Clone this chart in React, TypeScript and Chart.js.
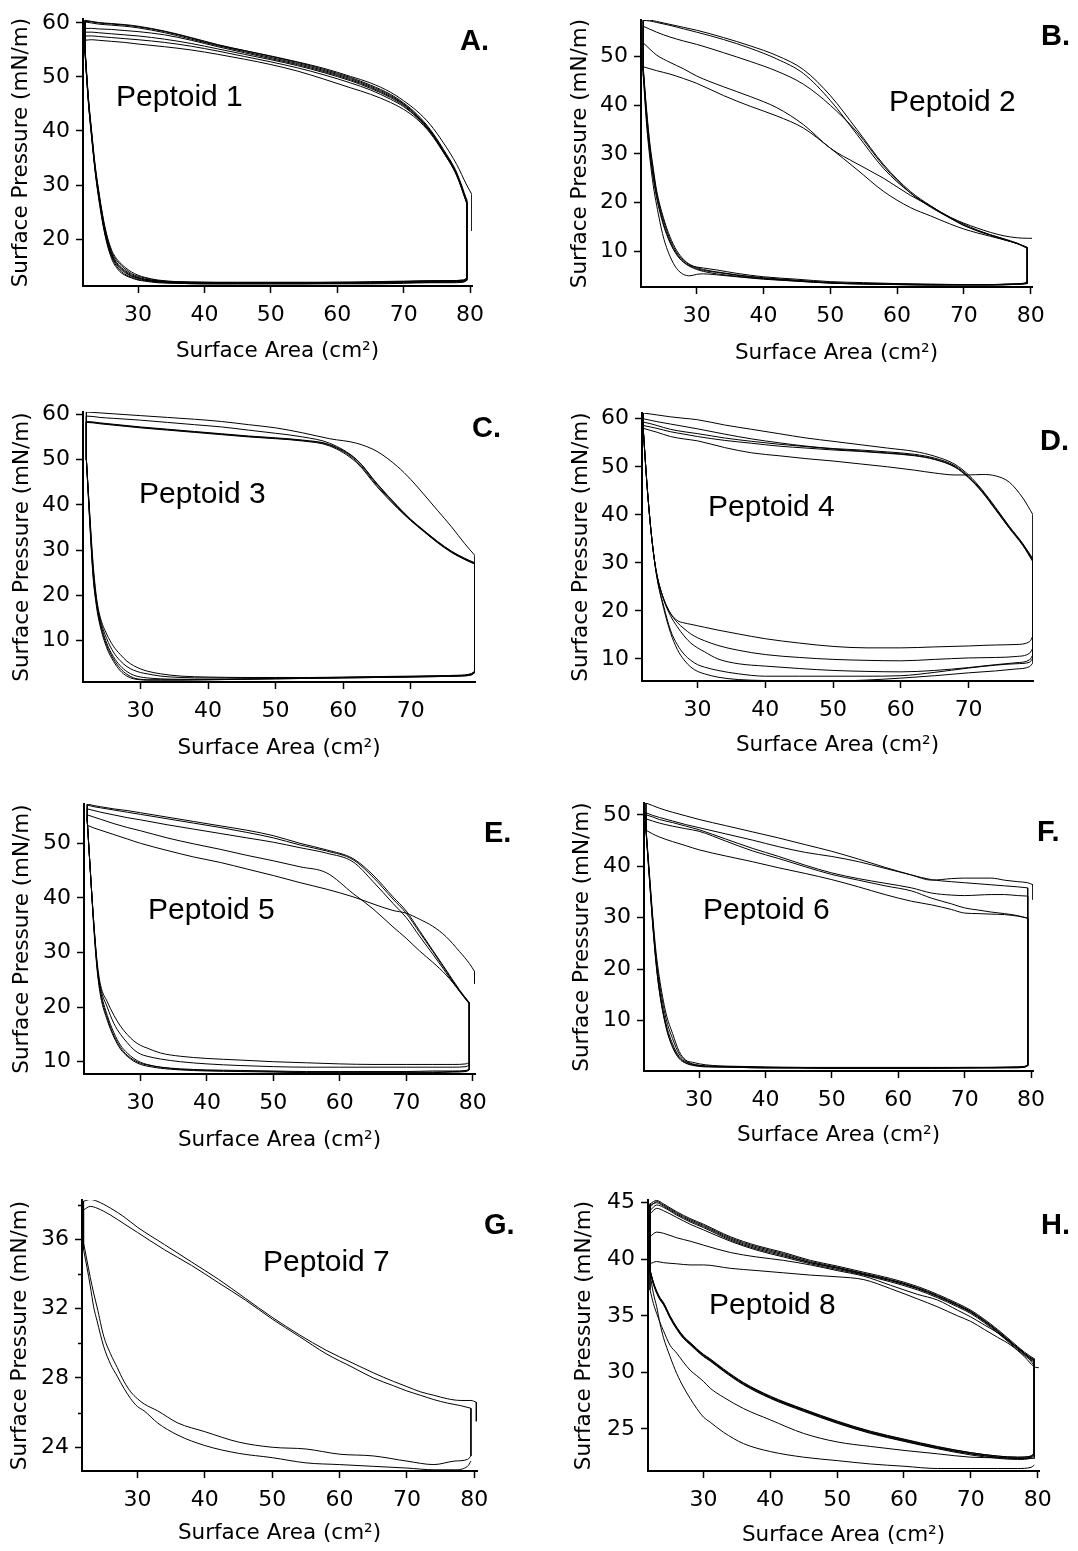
import React, { useEffect, useRef } from 'react';
import { Chart, registerables } from 'chart.js';

Chart.register(...registerables);

// ---------- shared abscissae (surface area, cm^2) ----------
const COMPRESSION_AREA = [22, 23, 24, 26, 28, 30, 34, 38, 42, 46, 50, 54, 58, 62, 65, 68, 70, 72, 74, 76, 78, 79.5];
const EXPANSION_AREA = [79.5, 79, 77, 74, 70, 65, 60, 55, 50, 45, 40, 36, 33, 31, 30, 29, 28, 27, 26, 25, 24, 23.5, 23, 22.5, 22];
const START_AREA = 80.3;
const X_TICKS_80 = [30, 40, 50, 60, 70, 80];
const X_TICKS_70 = [30, 40, 50, 60, 70];

// ---------- Peptoid 1 ----------
const P1_COMPRESSION = [
  [60.3, 60.2, 60.0, 59.8, 59.6, 59.3, 58.4, 57.2, 55.9, 54.9, 53.9, 52.8, 51.6, 50.1, 48.9, 47.2, 45.6, 43.7, 41.2, 37.8, 33.8, 30.0],
  [60.5, 60.3, 60.1, 59.9, 59.7, 59.4, 58.5, 57.3, 56.0, 54.9, 53.8, 52.7, 51.4, 49.9, 48.5, 46.8, 45.2, 43.1, 40.3, 36.6, 32.3, 27.3],
  [60.2, 60.0, 59.8, 59.6, 59.4, 59.1, 58.2, 57.0, 55.8, 54.7, 53.6, 52.5, 51.2, 49.7, 48.3, 46.6, 45.0, 42.9, 40.1, 36.4, 32.1, 27.0],
  [59.0, 59.0, 58.9, 58.8, 58.6, 58.4, 57.8, 56.8, 55.6, 54.5, 53.4, 52.3, 51.0, 49.5, 48.1, 46.4, 44.9, 42.8, 40.0, 36.3, 32.0, 26.9],
  [58.3, 58.3, 58.2, 58.0, 57.8, 57.6, 57.0, 56.2, 55.2, 54.2, 53.2, 52.1, 50.8, 49.3, 47.9, 46.2, 44.7, 42.6, 39.9, 36.2, 31.9, 26.8],
  [57.6, 57.6, 57.5, 57.3, 57.1, 56.9, 56.4, 55.7, 54.8, 53.8, 52.8, 51.7, 50.4, 48.9, 47.6, 45.9, 44.5, 42.5, 39.8, 36.1, 31.8, 26.7],
  [56.8, 56.9, 56.8, 56.6, 56.4, 56.1, 55.6, 55.0, 54.2, 53.3, 52.3, 51.1, 49.6, 48.0, 46.8, 45.3, 44.0, 42.2, 39.6, 36.0, 31.7, 26.6],
];
const P1_EXPANSION = [
  [12.8, 12.4, 12.3, 12.3, 12.2, 12.1, 12.0, 12.0, 12.0, 12.0, 12.0, 12.1, 12.4, 12.9, 13.3, 13.9, 14.8, 16.0, 18.0, 22.3, 29.5, 34.0, 40.0, 46.5, 55.5],
  [12.6, 12.3, 12.2, 12.2, 12.1, 12.0, 11.9, 11.9, 11.9, 11.9, 11.9, 12.0, 12.2, 12.6, 12.9, 13.4, 14.2, 15.3, 17.4, 21.7, 29.0, 33.5, 39.5, 46.0, 55.0],
  [12.5, 12.2, 12.1, 12.1, 12.0, 11.9, 11.8, 11.8, 11.8, 11.8, 11.8, 11.9, 12.1, 12.4, 12.7, 13.1, 13.8, 14.9, 17.0, 21.3, 28.6, 33.2, 39.2, 45.8, 54.8],
  [12.4, 12.1, 12.0, 12.0, 11.9, 11.8, 11.8, 11.7, 11.7, 11.7, 11.7, 11.8, 12.0, 12.3, 12.5, 12.9, 13.5, 14.6, 16.7, 21.0, 28.3, 33.0, 39.0, 45.6, 54.6],
  [12.7, 12.4, 12.3, 12.2, 12.1, 12.0, 12.0, 11.9, 11.9, 11.9, 12.0, 12.1, 12.3, 12.8, 13.1, 13.6, 14.5, 15.7, 17.7, 22.0, 29.2, 33.7, 39.7, 46.2, 55.2],
  [12.3, 12.0, 11.9, 11.9, 11.8, 11.7, 11.7, 11.7, 11.7, 11.7, 11.7, 11.8, 11.9, 12.2, 12.4, 12.8, 13.3, 14.3, 16.4, 20.8, 28.0, 32.8, 38.8, 45.4, 54.4],
  [12.5, 12.2, 12.1, 12.0, 12.0, 11.9, 11.8, 11.8, 11.8, 11.8, 11.8, 12.0, 12.2, 12.5, 12.8, 13.2, 14.0, 15.1, 17.2, 21.5, 28.8, 33.3, 39.3, 45.9, 54.9],
];
const P1_START = [28.2, 21.5];
const P1_Y_TICKS = [20, 30, 40, 50, 60];

// ---------- Peptoid 2 ----------
const P2_COMPRESSION = [
  [57.4, 57.3, 57.0, 56.4, 55.7, 55.0, 53.5, 51.7, 49.5, 46.5, 41.0, 34.0, 27.0, 22.0, 19.3, 17.0, 15.8, 14.8, 13.9, 13.2, 12.8, 12.7],
  [57.6, 57.5, 57.2, 56.6, 56.0, 55.4, 53.9, 52.2, 50.2, 47.3, 42.0, 35.0, 27.8, 22.3, 19.4, 16.9, 15.6, 14.4, 13.4, 12.5, 11.6, 10.8],
  [56.2, 55.6, 55.0, 54.0, 53.2, 52.5, 50.8, 49.0, 47.0, 44.3, 40.0, 34.5, 27.5, 22.0, 19.1, 16.8, 15.4, 14.2, 13.3, 12.4, 11.6, 10.6],
  [52.8, 51.5, 50.3, 48.8, 47.5, 46.0, 43.8, 41.8, 39.5, 36.0, 31.2, 28.0, 25.0, 21.5, 19.3, 16.8, 15.3, 14.3, 13.4, 12.6, 11.7, 10.8],
  [47.9, 47.5, 47.1, 46.4, 45.5, 44.5, 42.0, 39.8, 37.8, 35.3, 31.2, 26.8, 22.3, 19.0, 17.3, 15.6, 14.6, 13.8, 13.1, 12.4, 11.6, 10.8],
];
const P2_EXPANSION = [
  [3.5, 3.4, 3.2, 3.1, 3.1, 3.1, 3.2, 3.3, 3.5, 3.9, 4.4, 4.9, 5.4, 5.9, 6.3, 6.9, 7.8, 9.3, 11.8, 15.5, 21.0, 25.0, 30.0, 37.0, 47.0],
  [3.5, 3.4, 3.3, 3.2, 3.2, 3.3, 3.4, 3.6, 3.8, 4.3, 4.8, 5.5, 6.2, 6.6, 6.8, 7.2, 8.2, 9.8, 12.5, 16.5, 22.0, 26.5, 31.5, 38.5, 47.5],
  [3.4, 3.3, 3.2, 3.1, 3.1, 3.1, 3.2, 3.3, 3.5, 3.9, 4.3, 4.8, 5.2, 5.4, 5.3, 5.0, 5.3, 6.5, 9.0, 13.0, 19.5, 23.5, 29.0, 36.0, 46.0],
  [3.6, 3.4, 3.3, 3.2, 3.2, 3.2, 3.3, 3.4, 3.6, 4.0, 4.5, 5.1, 5.7, 6.1, 6.5, 7.0, 7.9, 9.5, 12.0, 15.8, 21.5, 25.5, 30.5, 37.5, 47.0],
  [3.8, 3.5, 3.3, 3.2, 3.2, 3.2, 3.3, 3.4, 3.6, 4.1, 4.6, 5.2, 5.8, 6.3, 6.7, 7.3, 8.4, 10.2, 13.0, 17.0, 22.5, 27.0, 32.0, 39.0, 47.5],
];
const P2_START = [12.7, 12.2];
const P2_Y_TICKS = [10, 20, 30, 40, 50];

// ---------- Peptoid 3 ----------
const P3_COMPRESSION = [
  [60.5, 60.4, 60.3, 60.1, 59.9, 59.7, 59.3, 58.9, 58.4, 57.7, 57.0, 55.9, 54.6, 53.6, 51.8, 48.5, 45.6, 42.2, 38.7, 35.2, 31.4, 28.8],
  [59.6, 59.5, 59.3, 59.1, 58.9, 58.7, 58.2, 57.7, 57.2, 56.5, 55.8, 55.0, 53.6, 50.0, 44.7, 39.8, 36.8, 34.3, 31.9, 29.8, 28.2, 27.2],
  [58.4, 58.3, 58.1, 57.8, 57.5, 57.2, 56.7, 56.2, 55.7, 55.2, 54.8, 54.3, 53.3, 49.9, 44.6, 39.7, 36.7, 34.2, 31.8, 29.7, 28.1, 27.1],
  [58.3, 58.2, 58.0, 57.7, 57.4, 57.1, 56.6, 56.1, 55.6, 55.1, 54.7, 54.2, 53.2, 49.6, 44.3, 39.5, 36.6, 34.1, 31.7, 29.6, 28.0, 27.0],
  [58.2, 58.1, 57.9, 57.6, 57.3, 57.0, 56.5, 56.0, 55.5, 55.0, 54.6, 54.1, 53.0, 49.3, 44.0, 39.3, 36.5, 34.0, 31.6, 29.5, 27.9, 26.9],
];
const P3_EXPANSION = [
  [3.0, 2.5, 2.2, 2.1, 2.0, 1.9, 1.8, 1.7, 1.6, 1.5, 1.4, 1.3, 1.3, 1.3, 1.4, 1.6, 2.2, 3.4, 5.5, 8.5, 13.5, 17.5, 24.0, 36.0, 50.0],
  [3.2, 2.6, 2.3, 2.2, 2.1, 2.0, 1.9, 1.8, 1.7, 1.6, 1.5, 1.5, 1.6, 1.8, 2.0, 2.4, 3.2, 4.5, 6.5, 9.5, 14.5, 18.5, 25.0, 37.0, 50.0],
  [3.4, 2.8, 2.4, 2.3, 2.2, 2.1, 2.0, 1.9, 1.9, 1.9, 2.0, 2.2, 2.7, 3.3, 3.8, 4.5, 5.5, 7.0, 8.8, 11.5, 15.5, 19.5, 27.0, 38.0, 50.0],
  [3.3, 2.7, 2.3, 2.2, 2.1, 2.0, 1.9, 1.8, 1.8, 1.8, 1.8, 1.9, 2.2, 2.7, 3.0, 3.5, 4.3, 5.6, 7.5, 10.5, 15.0, 19.0, 26.0, 37.5, 50.0],
  [3.1, 2.5, 2.2, 2.1, 2.0, 1.9, 1.8, 1.7, 1.6, 1.5, 1.4, 1.4, 1.4, 1.4, 1.5, 1.8, 2.6, 3.9, 6.0, 9.0, 14.0, 18.0, 24.5, 36.5, 50.0],
];
const P3_Y_TICKS = [10, 20, 30, 40, 50, 60];

// ---------- Peptoid 4 ----------
const P4_COMPRESSION = [
  [61.2, 61.0, 60.8, 60.4, 60.1, 59.8, 58.7, 57.8, 56.9, 56.0, 55.3, 54.6, 53.9, 53.2, 52.2, 50.5, 48.3, 45.2, 41.5, 37.6, 34.0, 30.8],
  [60.0, 59.7, 59.4, 58.9, 58.4, 57.9, 56.8, 55.8, 55.0, 54.3, 53.8, 53.5, 53.1, 52.6, 51.8, 50.2, 48.0, 45.0, 41.3, 37.5, 33.9, 30.6],
  [59.3, 59.0, 58.6, 57.8, 57.3, 56.9, 56.0, 55.3, 54.7, 54.2, 53.7, 53.3, 52.9, 52.4, 51.6, 50.0, 47.8, 44.8, 41.1, 37.3, 33.7, 30.3],
  [58.6, 58.3, 58.0, 57.3, 56.8, 56.3, 55.5, 54.9, 54.3, 53.9, 53.5, 53.2, 52.8, 52.3, 51.5, 49.9, 47.7, 44.7, 41.0, 37.2, 33.6, 30.2],
  [58.0, 57.6, 57.2, 56.3, 55.8, 55.4, 54.0, 52.9, 52.3, 51.7, 51.2, 50.6, 50.0, 49.3, 48.7, 48.3, 48.3, 48.4, 48.1, 46.8, 43.5, 40.0],
];
const P4_EXPANSION = [
  [14.8, 13.6, 13.0, 12.9, 12.7, 12.5, 12.3, 12.3, 12.6, 13.3, 14.2, 15.2, 16.0, 16.6, 16.9, 17.2, 17.5, 18.0, 19.5, 22.5, 27.5, 32.0, 38.5, 47.0, 57.5],
  [12.3, 11.2, 10.5, 10.3, 10.2, 9.9, 9.6, 9.7, 9.9, 10.3, 10.9, 11.8, 12.8, 13.8, 14.4, 15.2, 16.3, 17.6, 19.5, 22.5, 27.5, 32.0, 38.5, 47.0, 57.5],
  [10.9, 9.8, 9.2, 8.8, 8.2, 7.6, 7.3, 7.4, 7.6, 8.0, 8.5, 9.0, 10.0, 11.5, 12.3, 13.3, 14.8, 16.7, 19.0, 22.3, 27.5, 32.0, 38.5, 47.0, 57.5],
  [10.2, 9.3, 9.0, 8.7, 8.1, 7.2, 6.5, 6.4, 6.4, 6.4, 6.4, 6.9, 7.6, 8.3, 8.8, 9.7, 11.0, 13.0, 16.0, 21.0, 27.0, 32.0, 38.5, 47.0, 57.5],
  [9.2, 8.4, 7.9, 7.5, 7.1, 6.5, 6.0, 5.6, 5.4, 5.4, 5.5, 5.7, 6.2, 6.9, 7.4, 8.3, 9.8, 12.0, 15.5, 20.5, 27.0, 32.0, 38.5, 47.0, 57.5],
];
const P4_Y_TICKS = [10, 20, 30, 40, 50, 60];

// ---------- Peptoid 5 ----------
const P5_COMPRESSION = [
  [53.3, 52.8, 52.4, 51.6, 50.8, 50.0, 48.7, 47.5, 46.5, 45.3, 44.1, 42.8, 41.6, 40.2, 38.9, 37.7, 37.2, 36.1, 34.8, 32.9, 30.2, 28.0],
  [57.2, 56.9, 56.7, 56.3, 56.0, 55.6, 54.8, 54.0, 53.2, 52.4, 51.4, 50.0, 48.8, 47.2, 44.2, 40.2, 37.6, 34.0, 30.4, 26.8, 23.2, 20.8],
  [57.0, 56.7, 56.5, 56.1, 55.7, 55.3, 54.5, 53.7, 52.9, 52.0, 51.0, 49.7, 48.6, 47.0, 43.8, 39.8, 37.2, 33.7, 30.2, 26.6, 23.0, 20.6],
  [56.3, 56.0, 55.7, 55.2, 54.7, 54.3, 53.4, 52.6, 51.8, 51.0, 50.2, 49.2, 48.2, 46.6, 43.0, 39.0, 36.4, 33.0, 29.7, 26.3, 22.9, 20.6],
  [55.2, 54.8, 54.4, 53.6, 52.9, 52.3, 51.0, 49.9, 48.9, 47.8, 46.8, 45.7, 44.6, 40.8, 38.0, 34.7, 32.6, 30.3, 28.2, 25.9, 23.0, 20.8],
];
const P5_EXPANSION = [
  [9.9, 9.6, 9.5, 9.5, 9.5, 9.5, 9.6, 9.8, 10.0, 10.3, 10.6, 11.0, 11.6, 12.5, 13.0, 13.8, 15.0, 16.5, 18.5, 21.0, 24.0, 28.0, 35.0, 44.0, 54.0],
  [9.4, 9.1, 9.0, 9.0, 9.0, 9.0, 9.0, 9.0, 9.1, 9.3, 9.6, 10.0, 10.5, 11.0, 11.4, 12.2, 13.5, 15.0, 17.0, 20.0, 23.5, 27.5, 35.0, 44.0, 54.0],
  [8.7, 8.4, 8.3, 8.3, 8.2, 8.2, 8.2, 8.2, 8.3, 8.4, 8.5, 8.7, 9.0, 9.4, 9.7, 10.3, 11.2, 12.6, 14.8, 18.0, 22.5, 27.0, 34.5, 44.0, 54.0],
  [8.5, 8.2, 8.1, 8.0, 8.0, 8.0, 8.0, 8.0, 8.1, 8.2, 8.3, 8.5, 8.8, 9.2, 9.5, 10.1, 11.0, 12.3, 14.5, 17.6, 22.0, 26.5, 34.0, 44.0, 54.0],
  [8.6, 8.3, 8.2, 8.1, 8.1, 8.1, 8.1, 8.1, 8.2, 8.3, 8.4, 8.6, 9.0, 9.5, 9.9, 10.6, 11.6, 13.0, 15.3, 18.5, 23.0, 27.2, 34.8, 44.0, 54.0],
];
const P5_START = [26.5, 24.3];
const P5_Y_TICKS = [10, 20, 30, 40, 50];

// ---------- Peptoid 6 ----------
const P6_COMPRESSION = [
  [52.3, 51.8, 51.3, 50.5, 49.8, 49.1, 47.9, 46.7, 45.5, 44.2, 42.9, 41.4, 39.8, 38.3, 37.3, 37.6, 37.7, 37.7, 37.7, 37.3, 37.0, 36.8],
  [50.4, 49.9, 49.5, 48.8, 48.1, 47.5, 46.3, 45.1, 43.8, 42.7, 41.9, 40.9, 39.6, 38.3, 37.4, 37.0, 36.8, 36.6, 36.4, 36.2, 36.0, 35.8],
  [50.0, 49.6, 49.1, 48.5, 47.8, 47.1, 45.3, 43.5, 41.9, 40.2, 38.7, 37.6, 36.7, 35.8, 34.8, 34.4, 34.3, 34.4, 34.5, 34.5, 34.3, 34.2],
  [49.2, 48.8, 48.4, 47.8, 47.3, 46.8, 44.9, 43.0, 41.5, 39.9, 38.4, 37.3, 36.2, 35.2, 33.8, 32.7, 31.9, 31.5, 31.1, 30.8, 30.4, 29.9],
  [47.0, 46.3, 45.7, 44.8, 44.0, 43.2, 42.0, 40.9, 39.7, 38.6, 37.4, 36.0, 34.5, 33.2, 32.5, 31.6, 30.9, 30.8, 30.7, 30.6, 30.3, 29.9],
];
const P6_EXPANSION = [
  [1.3, 1.0, 0.9, 0.9, 0.9, 0.8, 0.8, 0.8, 0.8, 0.9, 0.9, 1.0, 1.0, 1.1, 1.2, 1.4, 1.8, 2.8, 5.0, 9.0, 16.0, 21.5, 29.0, 38.0, 47.0],
  [1.2, 1.0, 0.9, 0.8, 0.8, 0.8, 0.7, 0.7, 0.7, 0.8, 0.8, 0.9, 1.0, 1.1, 1.3, 1.6, 2.2, 3.5, 6.5, 10.5, 17.5, 22.5, 30.0, 38.5, 47.0],
  [1.4, 1.1, 1.0, 0.9, 0.9, 0.9, 0.9, 0.9, 0.9, 0.9, 1.0, 1.1, 1.2, 1.4, 1.6, 1.9, 2.3, 4.0, 7.5, 11.5, 18.5, 23.5, 30.5, 39.0, 47.5],
  [1.2, 0.9, 0.8, 0.8, 0.8, 0.7, 0.7, 0.7, 0.7, 0.8, 0.8, 0.9, 1.0, 1.0, 1.1, 1.3, 1.7, 2.6, 4.8, 8.8, 15.8, 21.3, 28.8, 37.8, 46.8],
  [1.3, 1.0, 0.9, 0.9, 0.8, 0.8, 0.8, 0.8, 0.8, 0.8, 0.9, 1.0, 1.1, 1.2, 1.3, 1.5, 2.0, 3.0, 5.5, 9.5, 16.5, 22.0, 29.5, 38.2, 47.2],
];
const P6_START = [36.4, 33.5];
const P6_Y_TICKS = [10, 20, 30, 40, 50];

// ---------- Peptoid 7 ----------
const P7_COMPRESSION = [
  [38.2, 38.3, 38.2, 37.8, 37.3, 36.7, 35.7, 34.7, 33.7, 32.6, 31.5, 30.5, 29.6, 28.85, 28.3, 27.8, 27.5, 27.2, 27.0, 26.8, 26.7, 26.7],
  [37.7, 37.9, 37.8, 37.4, 36.9, 36.4, 35.4, 34.5, 33.5, 32.5, 31.4, 30.4, 29.4, 28.6, 28.0, 27.55, 27.25, 27.0, 26.75, 26.55, 26.4, 26.25],
];
const P7_EXPANSION = [
  [23.2, 22.9, 22.7, 22.7, 22.8, 22.9, 23.0, 23.1, 23.4, 23.65, 24.1, 24.7, 25.4, 26.1, 26.35, 26.8, 27.4, 28.1, 28.8, 29.8, 31.3, 32.1, 33.3, 34.4, 35.4],
  [23.5, 23.3, 23.2, 23.0, 23.2, 23.5, 23.6, 23.9, 24.0, 24.3, 24.9, 25.4, 26.1, 26.5, 26.8, 27.2, 27.8, 28.6, 29.4, 30.4, 32.1, 32.9, 33.8, 34.8, 35.8],
];
const P7_START = [26.6, 25.5];
const P7_Y_TICKS = [24, 28, 32, 36];
const P7_Y_MINOR = [26, 30, 34, 38];

// ---------- Peptoid 8 ----------
const P8_COMPRESSION = [
  [39.6, 39.8, 39.7, 39.6, 39.5, 39.5, 39.2, 39.0, 38.8, 38.6, 38.45, 38.2, 37.4, 36.5, 35.8, 35.0, 34.5, 33.8, 33.1, 32.4, 31.4, 30.5],
  [42.0, 42.4, 42.3, 41.9, 41.6, 41.25, 40.6, 40.2, 39.9, 39.5, 39.0, 38.5, 37.7, 36.9, 36.4, 35.5, 34.9, 34.2, 33.5, 32.6, 31.7, 30.6],
  [44.9, 45.2, 44.9, 44.2, 43.6, 43.1, 42.0, 41.2, 40.6, 39.9, 39.4, 38.85, 38.3, 37.6, 36.9, 36.1, 35.5, 34.7, 33.8, 32.8, 31.8, 31.2],
  [44.6, 45.1, 44.8, 44.1, 43.5, 43.0, 41.9, 41.1, 40.5, 39.8, 39.3, 38.75, 38.2, 37.5, 36.8, 36.0, 35.4, 34.6, 33.7, 32.7, 31.7, 31.1],
  [44.3, 44.8, 44.6, 43.9, 43.3, 42.8, 41.7, 40.9, 40.3, 39.7, 39.2, 38.65, 38.1, 37.4, 36.7, 35.9, 35.3, 34.5, 33.6, 32.6, 31.6, 31.0],
  [44.0, 44.5, 44.3, 43.7, 43.1, 42.6, 41.6, 40.8, 40.2, 39.6, 39.1, 38.6, 38.0, 37.3, 36.6, 35.8, 35.2, 34.4, 33.5, 32.5, 31.5, 30.9],
  [44.8, 45.0, 44.7, 44.0, 43.4, 42.9, 41.8, 41.0, 40.4, 39.7, 39.25, 38.7, 38.15, 37.45, 36.75, 35.95, 35.35, 34.55, 33.65, 32.65, 31.65, 31.05],
];
const P8_EXPANSION = [
  [21.8, 21.6, 21.5, 21.5, 21.5, 21.5, 21.7, 21.9, 22.2, 22.5, 23.0, 23.7, 24.7, 25.6, 26.05, 26.8, 27.7, 28.7, 29.9, 31.4, 33.1, 34.3, 35.8, 37.0, 38.7],
  [22.4, 22.4, 22.4, 22.45, 22.5, 22.8, 23.1, 23.45, 23.85, 24.6, 25.8, 26.8, 27.8, 28.6, 29.2, 29.7, 30.2, 30.9, 31.7, 32.4, 33.7, 34.4, 35.2, 36.1, 37.3],
  [22.8, 22.5, 22.4, 22.5, 22.8, 23.35, 24.0, 24.7, 25.6, 26.65, 27.8, 29.0, 30.2, 31.1, 31.5, 32.0, 32.55, 33.1, 33.9, 34.9, 36.1, 36.5, 37.1, 37.9, 39.0],
  [22.9, 22.6, 22.5, 22.6, 22.9, 23.45, 24.1, 24.8, 25.7, 26.75, 27.9, 29.1, 30.3, 31.2, 31.6, 32.1, 32.65, 33.2, 34.0, 35.0, 36.2, 36.6, 37.2, 38.0, 39.1],
  [22.7, 22.4, 22.3, 22.4, 22.7, 23.25, 23.9, 24.6, 25.5, 26.55, 27.7, 28.9, 30.1, 31.0, 31.4, 31.9, 32.45, 33.0, 33.8, 34.8, 36.0, 36.4, 37.0, 37.8, 38.9],
  [22.8, 22.5, 22.4, 22.5, 22.8, 23.3, 23.95, 24.65, 25.55, 26.6, 27.75, 28.95, 30.15, 31.05, 31.45, 31.95, 32.5, 33.05, 33.85, 34.85, 36.05, 36.45, 37.05, 37.85, 38.95],
  [22.9, 22.6, 22.5, 22.6, 22.9, 23.4, 24.05, 24.75, 25.65, 26.7, 27.85, 29.05, 30.25, 31.15, 31.55, 32.05, 32.6, 33.15, 33.95, 34.95, 36.15, 36.55, 37.15, 37.95, 39.05],
];
const P8_START = [30.4, 29.3];
const P8_Y_TICKS = [25, 30, 35, 40, 45];

// ---------- layout / panel specs ----------
type Panel = {
  name: string;
  letter: string;
  compression: number[][];
  expansion: number[][];
  start: number[] | null;
  xRange: number[];
  yRange: number[];
  xTicks: number[];
  yTicks: number[];
  yMinor?: number[];
  box: number[]; // canvas: left, top, width, height
  plot: number[]; // plot area: left, top, right, bottom
  xTitleY: number;
  yTitleX: number;
  namePos: number[];
  letterPos: number[];
};

const PANELS: Panel[] = [
  { name: 'Peptoid 1', letter: 'A.', compression: P1_COMPRESSION, expansion: P1_EXPANSION, start: P1_START,
    xRange: [21.7, 80.3], yRange: [11.3, 60.7], xTicks: X_TICKS_80, yTicks: P1_Y_TICKS,
    box: [0, 0, 540, 380], plot: [83, 18, 472, 286], xTitleY: 351, yTitleX: 21, namePos: [116, 106], letterPos: [460, 50] },
  { name: 'Peptoid 2', letter: 'B.', compression: P2_COMPRESSION, expansion: P2_EXPANSION, start: P2_START,
    xRange: [21.66, 80.2], yRange: [2.7, 57.5], xTicks: X_TICKS_80, yTicks: P2_Y_TICKS,
    box: [540, 0, 538, 380], plot: [641, 20, 1032, 287], xTitleY: 353, yTitleX: 580, namePos: [889, 111], letterPos: [1041, 45] },
  { name: 'Peptoid 3', letter: 'C.', compression: P3_COMPRESSION, expansion: P3_EXPANSION, start: null,
    xRange: [21.5, 79.5], yRange: [0.9, 60.5], xTicks: X_TICKS_70, yTicks: P3_Y_TICKS,
    box: [0, 380, 540, 390], plot: [83, 412, 475, 682], xTitleY: 748, yTitleX: 22, namePos: [139, 503], letterPos: [472, 437] },
  { name: 'Peptoid 4', letter: 'D.', compression: P4_COMPRESSION, expansion: P4_EXPANSION, start: null,
    xRange: [21.8, 79.5], yRange: [5.4, 61.2], xTicks: X_TICKS_70, yTicks: P4_Y_TICKS,
    box: [540, 380, 538, 390], plot: [642, 413, 1033, 681], xTitleY: 745, yTitleX: 581, namePos: [708, 516], letterPos: [1040, 450] },
  { name: 'Peptoid 5', letter: 'E.', compression: P5_COMPRESSION, expansion: P5_EXPANSION, start: P5_START,
    xRange: [21.5, 80.35], yRange: [7.75, 57.2], xTicks: X_TICKS_80, yTicks: P5_Y_TICKS,
    box: [0, 770, 540, 390], plot: [84, 804, 475, 1074], xTitleY: 1140, yTitleX: 22, namePos: [148, 919], letterPos: [484, 842] },
  { name: 'Peptoid 6', letter: 'F.', compression: P6_COMPRESSION, expansion: P6_EXPANSION, start: P6_START,
    xRange: [21.7, 80.3], yRange: [0.2, 52.3], xTicks: X_TICKS_80, yTicks: P6_Y_TICKS,
    box: [540, 770, 538, 390], plot: [644, 803, 1033, 1071], xTitleY: 1135, yTitleX: 582, namePos: [703, 919], letterPos: [1037, 841] },
  { name: 'Peptoid 7', letter: 'G.', compression: P7_COMPRESSION, expansion: P7_EXPANSION, start: P7_START,
    xRange: [21.77, 80.4], yRange: [22.63, 38.27], xTicks: X_TICKS_80, yTicks: P7_Y_TICKS, yMinor: P7_Y_MINOR,
    box: [0, 1160, 540, 391], plot: [82, 1200, 477, 1471], xTitleY: 1533, yTitleX: 20, namePos: [263, 1271], letterPos: [484, 1234] },
  { name: 'Peptoid 8', letter: 'H.', compression: P8_COMPRESSION, expansion: P8_EXPANSION, start: P8_START,
    xRange: [21.7, 80.2], yRange: [21.28, 45.24], xTicks: X_TICKS_80, yTicks: P8_Y_TICKS,
    box: [540, 1160, 538, 391], plot: [648, 1200, 1039, 1471], xTitleY: 1535, yTitleX: 584, namePos: [709, 1314], letterPos: [1041, 1234] },
];

const Y_AXIS_W = 80;
const X_AXIS_H = 80;
const TITLE_FONT = 21.5;
const TICK_FONT = 22;

function lineSet(label: string, pts: { x: number; y: number }[], smooth: boolean) {
  return {
    label,
    data: pts,
    showLine: true,
    borderColor: '#000',
    backgroundColor: '#000',
    borderWidth: 1,
    pointRadius: 0,
    fill: false,
    tension: 0,
    cubicInterpolationMode: smooth ? 'monotone' : 'default',
  };
}

function buildDatasets(p: Panel) {
  const sets: any[] = [];
  const last = COMPRESSION_AREA.length - 1;
  p.compression.forEach((up, i) => {
    const lo = p.expansion[i];
    const isStart = i === 0 && !!p.start;
    const upper = COMPRESSION_AREA.map((x, k) => ({ x, y: up[k] }));
    if (isStart && p.start) upper.push({ x: START_AREA, y: p.start[0] });
    sets.push(lineSet(`${p.name} cycle ${i + 1} upper`, upper, true));
    const lower: { x: number; y: number }[] = [];
    for (let k = EXPANSION_AREA.length - 1; k >= 0; k--) lower.push({ x: EXPANSION_AREA[k], y: lo[k] });
    sets.push(lineSet(`${p.name} cycle ${i + 1} lower`, lower, true));
    sets.push(lineSet(`${p.name} cycle ${i + 1} left`, [
      { x: COMPRESSION_AREA[0], y: up[0] },
      { x: EXPANSION_AREA[EXPANSION_AREA.length - 1], y: lo[EXPANSION_AREA.length - 1] },
    ], false));
    if (isStart && p.start) {
      sets.push(lineSet(`${p.name} start`, [
        { x: START_AREA, y: p.start[0] },
        { x: START_AREA, y: p.start[1] },
      ], false));
    } else {
      sets.push(lineSet(`${p.name} cycle ${i + 1} right`, [
        { x: COMPRESSION_AREA[last], y: up[last] },
        { x: EXPANSION_AREA[0], y: lo[0] },
      ], false));
    }
  });
  return sets;
}

function makeConfig(p: Panel): any {
  const [cx, cy, cw, ch] = p.box;
  const [L, T, R, B] = p.plot;
  const lh = TITLE_FONT * 1.2;
  const padLeft = L - cx - Y_AXIS_W;
  const padTop = T - cy;
  const padRight = cx + cw - R;
  const padBottom = cy + ch - B - X_AXIS_H;
  const xTitlePad = Math.max(0, (B - cy + X_AXIS_H) - (p.xTitleY - cy) - lh / 2);
  const yTitlePad = Math.max(0, (p.yTitleX - cx) - padLeft - lh / 2);

  const labelPlugin = {
    id: 'panelLabels' + p.letter.replace('.', ''),
    afterDraw(chart: any) {
      const ctx = chart.ctx;
      ctx.save();
      ctx.fillStyle = '#000';
      ctx.textBaseline = 'alphabetic';
      ctx.textAlign = 'left';
      ctx.font = '30px "Liberation Sans", Arial, sans-serif';
      ctx.fillText(p.name, p.namePos[0] - cx, p.namePos[1] - cy);
      ctx.font = 'bold 29px "Liberation Sans", Arial, sans-serif';
      ctx.fillText(p.letter, p.letterPos[0] - cx, p.letterPos[1] - cy);
      if (p.yMinor) {
        const ys = chart.scales.y;
        ctx.strokeStyle = '#000';
        ctx.lineWidth = 1.5;
        p.yMinor.forEach((v) => {
          const py = Math.round(ys.getPixelForValue(v)) + 0.5;
          ctx.beginPath();
          ctx.moveTo(chart.chartArea.left - 4, py);
          ctx.lineTo(chart.chartArea.left, py);
          ctx.stroke();
        });
      }
      ctx.restore();
    },
  };

  const tickFont = { family: '"DejaVu Sans", sans-serif', size: TICK_FONT };
  const titleFont = { family: '"DejaVu Sans", sans-serif', size: TITLE_FONT, lineHeight: 1.2 };
  const grid = { display: true, drawOnChartArea: false, drawTicks: true, tickLength: 7, tickWidth: 1.5, tickColor: '#000' };
  const border = { display: true, color: '#000', width: 2 };

  return {
    type: 'scatter',
    data: { datasets: buildDatasets(p) },
    options: {
      responsive: false,
      animation: false,
      devicePixelRatio: 1,
      layout: { padding: { left: padLeft, top: padTop, right: padRight, bottom: padBottom } },
      plugins: { legend: { display: false }, tooltip: { enabled: false }, title: { display: false } },
      elements: { point: { radius: 0 } },
      scales: {
        x: {
          type: 'linear',
          min: p.xRange[0],
          max: p.xRange[1],
          afterBuildTicks: (s: any) => { s.ticks = p.xTicks.map((v) => ({ value: v })); },
          afterFit: (s: any) => { s.height = X_AXIS_H; },
          ticks: { font: tickFont, color: '#000', padding: 9, maxRotation: 0, autoSkip: false, callback: (v: any) => String(v) },
          grid,
          border,
          title: { display: true, text: 'Surface Area (cm²)', color: '#000', font: titleFont, padding: { top: 0, bottom: xTitlePad } },
        },
        y: {
          type: 'linear',
          min: p.yRange[0],
          max: p.yRange[1],
          afterBuildTicks: (s: any) => { s.ticks = p.yTicks.map((v) => ({ value: v })); },
          afterFit: (s: any) => { s.width = Y_AXIS_W; },
          ticks: { font: tickFont, color: '#000', padding: 6, autoSkip: false, callback: (v: any) => String(v) },
          grid,
          border,
          title: { display: true, text: 'Surface Pressure (mN/m)', color: '#000', font: titleFont, padding: { top: yTitlePad, bottom: 0 } },
        },
      },
    },
    plugins: [labelPlugin],
  };
}

function PanelChart({ p }: { p: Panel }) {
  const ref = useRef<HTMLCanvasElement | null>(null);
  useEffect(() => {
    if (!ref.current) return;
    const chart = new Chart(ref.current, makeConfig(p));
    return () => chart.destroy();
  }, [p]);
  const [cx, cy, cw, ch] = p.box;
  return (
    <canvas
      ref={ref}
      width={cw}
      height={ch}
      style={{ position: 'absolute', left: cx, top: cy, width: cw, height: ch }}
    />
  );
}

export default function App() {
  return (
    <div style={{ position: 'absolute', left: 0, top: 0, width: 1078, height: 1551, background: '#fff', overflow: 'hidden' }}>
      {PANELS.map((p) => (
        <PanelChart key={p.letter} p={p} />
      ))}
    </div>
  );
}
